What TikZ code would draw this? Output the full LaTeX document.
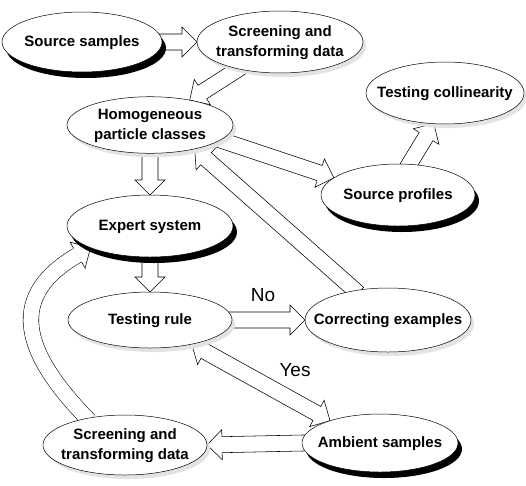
\documentclass[tikz,border=0pt]{standalone}
\usepackage{fontspec}
\setmainfont{Liberation Sans}
\usetikzlibrary{calc,shadows,shapes.geometric}
\pgfdeclarelayer{background}
\pgfsetlayers{background,main}
\newcommand{\ndfont}{\bfseries\fontsize{15}{20}\selectfont}
\newcommand{\ctx}[1]{\makebox[0pt]{\begin{tabular}{@{}c@{}}#1\end{tabular}}}
\newcommand{\basw}{8pt}
\newcommand{\bahw}{15pt}
\newcommand{\bahl}{15pt}
\newcommand{\blockarrow}[2]{%
  \coordinate (ba-s) at ($(#1)!-4pt!(#2)$);
  \coordinate (ba-e) at (#2);
  \coordinate (ba-b) at ($(ba-e)!\bahl!(ba-s)$);
  \draw[blockarr] ($(ba-s)!\basw!90:(ba-e)$) -- ($(ba-b)!\basw!90:(ba-e)$) -- ($(ba-b)!\bahw!90:(ba-e)$) -- (ba-e) -- ($(ba-b)!\bahw!-90:(ba-e)$) -- ($(ba-b)!\basw!-90:(ba-e)$) -- ($(ba-s)!\basw!-90:(ba-e)$) -- cycle;}
\newcommand{\dblockarrow}[2]{%
  \coordinate (da-s) at (#1);
  \coordinate (da-e) at (#2);
  \coordinate (da-b1) at ($(da-s)!\bahl!(da-e)$);
  \coordinate (da-b2) at ($(da-e)!\bahl!(da-s)$);
  \draw[blockarr] (da-s) -- ($(da-b1)!\bahw!90:(da-e)$) -- ($(da-b1)!\basw!90:(da-e)$) -- ($(da-b2)!\basw!90:(da-e)$) -- ($(da-b2)!\bahw!90:(da-e)$) -- (da-e) -- ($(da-b2)!\bahw!-90:(da-e)$) -- ($(da-b2)!\basw!-90:(da-e)$) -- ($(da-b1)!\basw!-90:(da-e)$) -- ($(da-b1)!\bahw!-90:(da-e)$) -- cycle;}
\tikzset{
  ell/.style={ellipse, draw=black, line width=0.5pt, fill=white, inner sep=0pt, outer sep=0pt, font=\ndfont},
  darkshadow/.style={drop shadow={shadow xshift=4pt, shadow yshift=-6pt, fill=black, opacity=1}},
  lightshadow/.style={drop shadow={shadow xshift=3pt, shadow yshift=-4pt, fill=gray!22, opacity=1}},
  blockarr/.style={draw=black, line width=0.55pt, fill=white, line join=miter},
  curveshaft/.style={draw=black, line width=0.55pt, double=white, double distance=15pt},
  lbl/.style={font=\fontsize{19}{22}\selectfont, inner sep=0pt}
}
\begin{document}
\begin{tikzpicture}[x=1pt, y=-1pt]
\useasboundingbox (0,0) rectangle (526,485);
\node[ell, darkshadow, minimum width=160pt, minimum height=60pt] (ss) at (82,42) {\ctx{Source samples}};
\node[ell, lightshadow, minimum width=166pt, minimum height=62pt] (st) at (280,42) {\ctx{Screening and\\transforming data}};
\node[ell, lightshadow, minimum width=166pt, minimum height=56pt] (hp) at (150,125) {\ctx{Homogeneous\\particle classes}};
\node[ell, lightshadow, minimum width=158pt, minimum height=62pt] (tc) at (445,93) {\ctx{Testing collinearity}};
\node[ell, darkshadow, minimum width=154pt, minimum height=62pt] (sp) at (398,195) {\ctx{Source profiles}};
\node[ell, darkshadow, minimum width=166pt, minimum height=62pt] (es) at (150,226) {\ctx{Expert system}};
\node[ell, lightshadow, minimum width=164pt, minimum height=56pt] (tr) at (150,320) {\ctx{Testing rule}};
\node[ell, lightshadow, minimum width=166pt, minimum height=64pt] (ce) at (388,320) {\ctx{Correcting examples}};
\node[ell, darkshadow, minimum width=156pt, minimum height=58pt] (am) at (380,443) {\ctx{Ambient samples}};
\node[ell, lightshadow, minimum width=164pt, minimum height=60pt] (sb) at (125,445) {\ctx{Screening and\\transforming data}};
\node[lbl] (no) at (263,295) {No};
\node[lbl] (yes) at (295,370) {Yes};
\begin{pgfonlayer}{background}
\blockarrow{ss.east}{st.west}
\blockarrow{st.213}{hp.32}
\blockarrow{hp.south}{es.north}
\blockarrow{es.south}{tr.north}
\blockarrow{hp.-12}{sp.165}
\blockarrow{ce.138}{hp.-28}
\blockarrow{sp.70}{tc.250}
\blockarrow{tr.east}{ce.west}
\dblockarrow{tr.-30}{am.156}
\blockarrow{am.west}{sb.east}
\coordinate (cv-t) at (es.200);
\coordinate (cv-c1) at (30,360);
\coordinate (cv-c2) at (0,300);
\coordinate (cv-b) at ($(cv-t)!\bahl!(cv-c2)$);
\draw[curveshaft] ($(sb.145)!-3pt!(cv-c1)$) .. controls (cv-c1) and (cv-c2) .. (cv-b);
\draw[blockarr] ($(cv-b)!\basw!90:(cv-t)$) -- ($(cv-b)!\bahw!90:(cv-t)$) -- (cv-t) -- ($(cv-b)!\bahw!-90:(cv-t)$) -- ($(cv-b)!\basw!-90:(cv-t)$);
\end{pgfonlayer}
\end{tikzpicture}
\end{document}
